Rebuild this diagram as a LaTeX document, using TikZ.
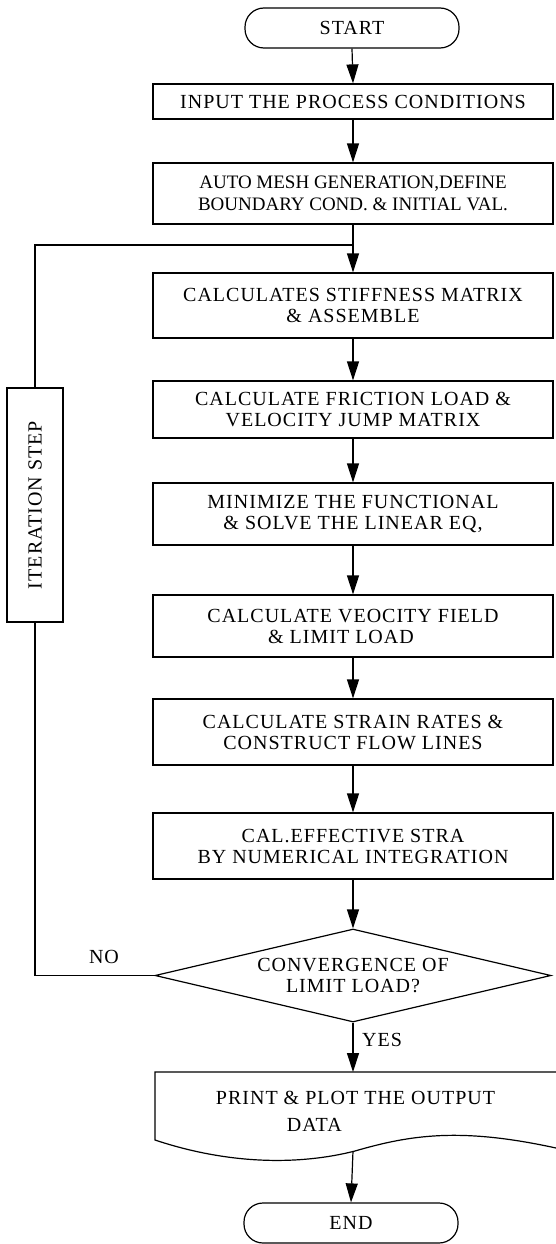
\documentclass[tikz,border=0pt]{standalone}
\usepackage{fontspec}
\setmainfont{Liberation Serif}
\newfontfamily\widefont[LetterSpace=5]{Liberation Serif}
\usetikzlibrary{arrows.meta,shapes.geometric}

\begin{document}
\begin{tikzpicture}[x=1pt,y=-1pt,
  every node/.style={font=\widefont\fontsize{20}{21}\selectfont, inner sep=0pt},
  box/.style={draw, line width=1.2pt, minimum width=400pt, align=center},
  term/.style={draw, line width=1.2pt, rounded corners=19pt,
    minimum width=214pt, minimum height=40pt},
  decision/.style={draw, line width=1.2pt, diamond, aspect=4.26,
    minimum width=396pt, minimum height=93pt, align=center},
  flow/.style={line width=1.2pt, -{Triangle[length=19pt,width=12pt]}},
  link/.style={line width=1.2pt},
]
% page
\fill[white] (0,0) rectangle (556,1244);
\useasboundingbox (0,0) rectangle (556,1244);

% main column
\node[term] (start) at (352,28) {START};
\node[box, minimum height=35pt] (input) at (353,101.5) {INPUT THE PROCESS CONDITIONS};
\node[box, minimum height=61pt, font=\rmfamily\fontsize{19}{22}\selectfont] (mesh) at (353,193.5)
  {AUTO MESH GENERATION,DEFINE\\BOUNDARY COND. \& INITIAL VAL.};
\node[box, minimum height=65pt] (stiff) at (353,305.5) {CALCULATES STIFFNESS MATRIX\\\& ASSEMBLE};
\node[box, minimum height=57pt] (fric) at (353,409.5) {CALCULATE FRICTION LOAD \&\\VELOCITY JUMP MATRIX};
\node[box, minimum height=62pt] (mini) at (353,514) {MINIMIZE THE FUNCTIONAL\\\& SOLVE THE LINEAR EQ,};
\node[box, minimum height=62pt] (velo) at (353,626) {CALCULATE VEOCITY FIELD\\\& LIMIT LOAD\hspace*{1.2em}};
\node[box, minimum height=66pt] (strain) at (353,732) {CALCULATE STRAIN RATES \&\\CONSTRUCT FLOW LINES};
\node[box, minimum height=66pt] (effs) at (353,846) {CAL.EFFECTIVE STRA\\BY NUMERICAL INTEGRATION};
\node[decision] (conv) at (353,975.5) {CONVERGENCE OF\\LIMIT LOAD?};

% output document with wavy lower edge
\draw[link] (556,1072) -- (155,1072) -- (155,1140)
  .. controls (230,1165) and (300,1165) .. (355,1151)
  .. controls (410,1135) and (460,1127) .. (556,1148);
\node[align=left] (print) at (355.5,1111)
  {PRINT \& PLOT THE OUTPUT\\[6pt]\hspace*{71pt}DATA};
\coordinate (printb) at (353,1151);
\node[term] (end) at (351,1223) {END};

% iteration loop, label reading upwards
\node[draw, line width=1.2pt, fill=white, rotate=90, minimum width=234pt, minimum height=56pt]
  (iter) at (35,505) {ITERATION STEP};
\coordinate (join) at (353,245);

% connectors
\draw[flow] (start.south) -- (input.north);
\draw[flow] (input.south) -- (input.south |- mesh.north);
\draw[flow] (mesh.south) -- (stiff.north);
\draw[flow] (stiff.south) -- (fric.north);
\draw[flow] (fric.south) -- (mini.north);
\draw[flow] (mini.south) -- (velo.north);
\draw[flow] (velo.south) -- (strain.north);
\draw[flow] (strain.south) -- (effs.north);
\draw[flow] (effs.south) -- (conv.north);
\draw[flow] (conv.south) -- (conv.south |- 0,1072);
\draw[flow] (printb) -- (end.north);
\draw[link] (conv.west) -| (iter.west);
\draw[link] (iter.east) |- (join);

% branch labels
\node (no) at (104,957) {NO};
\node (yes) at (382,1040) {YES};
\end{tikzpicture}
\end{document}
